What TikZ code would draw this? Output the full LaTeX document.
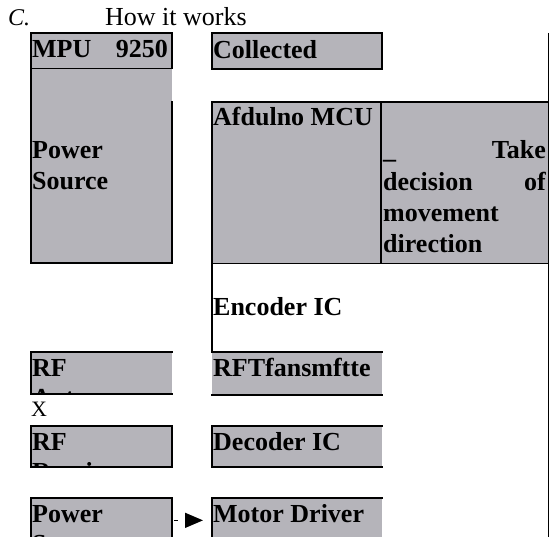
\documentclass[tikz,border=0pt]{standalone}
\usepackage{fontspec}
\setmainfont{Liberation Serif}
\usetikzlibrary{arrows.meta}
\definecolor{boxgray}{RGB}{181,180,186}
\begin{document}
\begin{tikzpicture}[x=1pt,y=-1pt,
  fillbox/.style={fill=boxgray, draw=none, inner sep=0pt, outer sep=0pt, anchor=north west},
  openbox/.style={draw=none, inner sep=0pt, outer sep=0pt, anchor=north west},
  edge/.style={line width=1.8pt, line cap=rect},
  thinedge/.style={line width=1.3pt},
  lbl/.style={anchor=base west, inner sep=0pt, font=\fontsize{26}{30}\selectfont\bfseries},
  rlbl/.style={anchor=base east, inner sep=0pt, font=\fontsize{26}{30}\selectfont\bfseries},
  plain/.style={anchor=base west, inner sep=0pt, font=\fontsize{26}{30}\selectfont},
  flow/.style={line width=1.5pt, dash pattern=on 4pt off 100pt, shorten <=2.3pt, shorten >=8.7pt, -{Triangle[length=18pt,width=15pt]}}
]
\useasboundingbox (0,0) rectangle (550,537);

% title
\node[plain, font=\fontsize{24}{28}\selectfont\itshape] (tc) at (8,26) {C.};
\node[plain] (tt) at (105,26) {How it works};

% fills
\node[fillbox, minimum width=141pt, minimum height=35.5pt] (mpu) at (30.7,33) {};
\node[fillbox, minimum width=141pt, minimum height=194.5pt] (pw) at (30.7,68.5) {};
\node[fillbox, minimum width=170pt, minimum height=36pt] (col) at (211.7,33) {};
\node[fillbox, minimum width=336.8pt, minimum height=161.8pt] (mcu) at (211.7,101.7) {};
\node[openbox, minimum width=170pt, minimum height=88.5pt] (enc) at (211.7,263.5) {};
\node[fillbox, minimum width=170pt, minimum height=43pt] (rft) at (211.7,352) {};
\node[fillbox, minimum width=141pt, minimum height=42.3pt] (rfa) at (30.7,352) {};
\node[fillbox, minimum width=141pt, minimum height=40.7pt] (rfr) at (30.7,426) {};
\node[fillbox, minimum width=170pt, minimum height=40.7pt] (dec) at (211.7,426) {};
\node[fillbox, minimum width=141pt, minimum height=39.3pt] (pw2) at (30.7,497.7) {};
\node[fillbox, minimum width=170pt, minimum height=39.3pt] (mot) at (211.7,497.7) {};

% borders
\draw[edge] (mpu.north west) rectangle (mpu.south east);
\draw[edge] (pw.north west) -- (pw.south west) -- (pw.south east) -- (171.7,101.7);
\draw[edge] (col.north west) rectangle (col.south east);
\draw[edge] (mcu.north east) -- (mcu.north west) -- (mcu.south west) -- (mcu.south east);
\draw[edge] (381,101.7) -- (381,263.5);
\draw[edge] (enc.north west) -- (enc.south west) -- (enc.south east);
\draw[edge] (rft.south west) -- (rft.south east);
\draw[edge] (rfa.north east) -- (rfa.north west) -- (rfa.south west) -- (rfa.south east);
\draw[edge] (rfr.north west) rectangle (rfr.south east);
\draw[edge] (dec.north east) -- (dec.north west) -- (dec.south west) -- (dec.south east);
\draw[edge] (30.7,540) -- (pw2.north west) -- (pw2.north east) -- (171.7,540);
\draw[edge] (211.7,540) -- (mot.north west) -- (mot.north east);
\draw[thinedge] (548.5,33) -- (548.5,540);

% texts
\node[lbl] (t1) at (32,58) {MPU};
\node[rlbl] (t2) at (168,58) {9250};
\node[lbl] (t3) at (32,159) {Power};
\node[lbl] (t4) at (32,190) {Source};
\node[lbl] (t5) at (213,58.5) {Collected};
\node[lbl] (t6) at (213,126) {Afdulno MCU};
\node[lbl] (t7) at (383,159) {\_};
\node[rlbl] (t8) at (546,159) {Take};
\node[lbl] (t9) at (383,190.5) {decision};
\node[rlbl] (t10) at (546,190.5) {of};
\node[lbl] (t11) at (383,222) {movement};
\node[lbl] (t12) at (383,253) {direction};
\node[lbl] (t13) at (213,316) {Encoder IC};
\node[lbl] (t14) at (213,377) {RFTfansmftte};
\node[lbl] (t15) at (32,377) {RF};
\begin{scope}
  \clip (rfa.north west) rectangle (rfa.south east);
  \node[lbl] (t16) at (32,407) {Antenna};
\end{scope}
\node[plain, font=\fontsize{22}{26}\selectfont] (tx) at (31,417) {X};
\node[lbl] (t17) at (32,451) {RF};
\begin{scope}
  \clip (rfr.north west) rectangle (rfr.south east);
  \node[lbl] (t18) at (32,481) {Receiver};
\end{scope}
\node[lbl] (t19) at (213,451) {Decoder IC};
\node[lbl] (t20) at (32,523) {Power};
\begin{scope}
  \clip (pw2.north west) rectangle (pw2.south east);
  \node[lbl] (t21) at (32,553) {Source};
\end{scope}
\node[lbl] (t22) at (213,523) {Motor Driver};

% connector
\draw[flow] ([yshift=-3pt]pw2.east) -- ([yshift=-3pt]mot.west);
\end{tikzpicture}
\end{document}
